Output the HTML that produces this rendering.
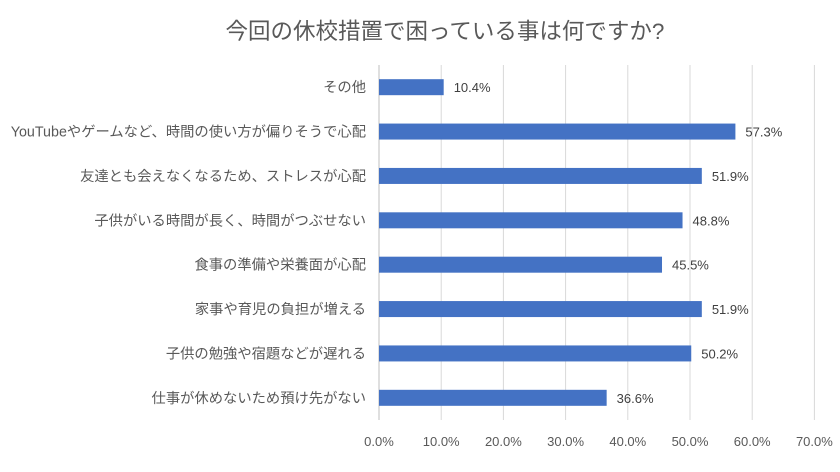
<!DOCTYPE html>
<html><head><meta charset="utf-8"><style>
body{margin:0;background:#fff;}
svg text{font-family:"Liberation Sans","Noto Sans CJK JP",sans-serif;}
</style></head><body>
<svg width="840" height="467">
<text x="445" y="39" text-anchor="middle" font-size="22.5" fill="#595959">今回の休校措置で困っている事は何ですか?</text>
<g id="grid"></g><g id="bars"></g><g id="labels"></g>
</svg>
<script>
const categories=["その他","YouTubeやゲームなど、時間の使い方が偏りそうで心配","友達とも会えなくなるため、ストレスが心配","子供がいる時間が長く、時間がつぶせない","食事の準備や栄養面が心配","家事や育児の負担が増える","子供の勉強や宿題などが遅れる","仕事が休めないため預け先がない"];
const values=[10.4,57.3,51.9,48.8,45.5,51.9,50.2,36.6];
const ticks=[0,10,20,30,40,50,60,70];
const x0=379,pxPer=6.22,plotTop=65,plotBottom=420;
const band=(plotBottom-plotTop)/categories.length;
const X=v=>x0+v*pxPer;
const Y=i=>plotTop+band*(i+0.5);
const ns="http://www.w3.org/2000/svg";
function mk(t,a,p){const e=document.createElementNS(ns,t);for(const k in a)e.setAttribute(k,a[k]);p.appendChild(e);return e;}
const grid=document.getElementById('grid'),bars=document.getElementById('bars'),labels=document.getElementById('labels');
ticks.forEach(t=>{
 const l=mk('line',{x1:X(t),x2:X(t),y1:plotTop,y2:plotBottom,stroke:t===0?'#bfbfbf':'#d9d9d9','stroke-width':1},grid);
 
 
 const tx=mk('text',{x:X(t),y:446,'text-anchor':'middle','font-size':13,fill:'#595959'},grid);
 tx.textContent=t.toFixed(1)+'%';
 
 
});
categories.forEach((c,i)=>{
 const y=Y(i);
 const r=mk('rect',{x:x0,y:y-8,width:X(values[i])-x0,height:16,fill:'#4472c4'},bars);
 
 
 const ct=mk('text',{x:366,y:y+5,'text-anchor':'end','font-size':14.3,fill:'#595959'},labels);
 ct.textContent=c;
 
 
 const vt=mk('text',{x:X(values[i])+10,y:y+5,'font-size':13,fill:'#404040'},labels);
 vt.textContent=values[i].toFixed(1)+'%';
 
 
});
</script>
</body></html>
